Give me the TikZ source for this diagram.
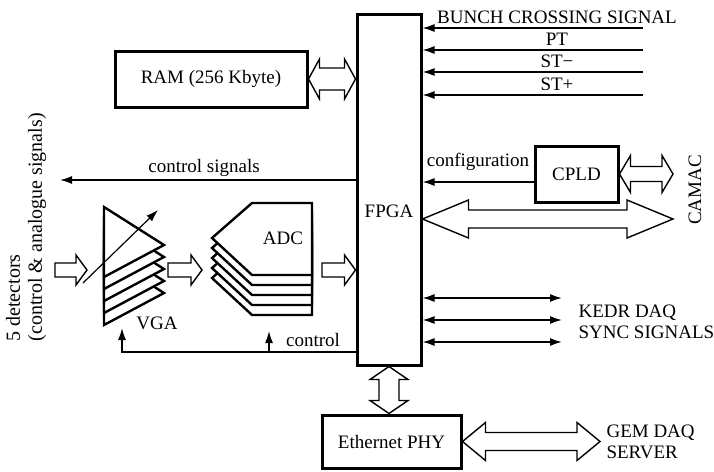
\documentclass[tikz,border=0pt]{standalone}
\usepackage{fontspec}
\setmainfont{Liberation Serif}
\usetikzlibrary{arrows.meta, calc}

% hollow bus arrows: from, to, shaft half width, head half width, head length
\newcommand{\dblarrowH}[5]{%
  \draw[hollow] let \p1=#1, \p2=#2 in
    (\x1,\y1) -- (\x1+#5,\y1+#4) -- (\x1+#5,\y1+#3) -- (\x2-#5,\y1+#3) -- (\x2-#5,\y1+#4)
    -- (\x2,\y1) -- (\x2-#5,\y1-#4) -- (\x2-#5,\y1-#3) -- (\x1+#5,\y1-#3) -- (\x1+#5,\y1-#4) -- cycle;}
\newcommand{\dblarrowV}[5]{%
  \draw[hollow] let \p1=#1, \p2=#2 in
    (\x1,\y1) -- (\x1+#4,\y1-#5) -- (\x1+#3,\y1-#5) -- (\x1+#3,\y2+#5) -- (\x1+#4,\y2+#5)
    -- (\x1,\y2) -- (\x1-#4,\y2+#5) -- (\x1-#3,\y2+#5) -- (\x1-#3,\y1-#5) -- (\x1-#4,\y1-#5) -- cycle;}
\newcommand{\arrowH}[5]{%
  \draw[hollow] let \p1=#1, \p2=#2 in
    (\x2,\y1) -- (\x2-#5,\y1+#4) -- (\x2-#5,\y1+#3) -- (\x1,\y1+#3)
    -- (\x1,\y1-#3) -- (\x2-#5,\y1-#3) -- (\x2-#5,\y1-#4) -- cycle;}

\begin{document}
\begin{tikzpicture}[x=1pt, y=-1pt, font=\fontsize{19}{21}\selectfont,
    box/.style={draw, line width=3pt, inner sep=0pt, align=center},
    sig/.style={line width=1.6pt},
    tip/.style={-{Latex[length=12pt,width=8pt]}},
    hollow/.style={draw, line width=1.4pt, fill=white, line join=miter}]
  \useasboundingbox (0,0) rectangle (714,471);

  % main blocks
  \node[box, minimum width=64pt, minimum height=351pt,
        label={[yshift=-22pt]center:FPGA}] (fpga) at (389,189.5) {};
  \node[box, minimum width=192pt, minimum height=56pt] (ram) at (211,79) {RAM (256 Kbyte)};
  \node[box, minimum width=83pt, minimum height=56pt] (cpld) at (576.5,174) {CPLD};
  \node[box, minimum width=139pt, minimum height=53pt] (eth) at (391.5,441.5) {Ethernet PHY};

  % trigger inputs
  \foreach \y/\t in {28/BUNCH CROSSING SIGNAL, 50/PT, 72/ST−, 95/ST+} {
    \coordinate (in\y) at (643,\y);
    \draw[sig, tip] (in\y) -- (fpga.east |- in\y);
    \node (lbl\y) at (557,\y-10.5) {\t};
  }

  % buses
  \dblarrowH{(ram.east)}{(ram.east -| fpga.west)}{11pt}{20pt}{11pt}
  \coordinate (camac) at (673,219);
  \dblarrowH{(fpga.east |- camac)}{(camac)}{9pt}{19pt}{46pt}
  \dblarrowH{(cpld.east)}{(cpld.east -| camac)}{7.5pt}{18.5pt}{11pt}
  \node[rotate=90] (camaclbl) at (695,190) {CAMAC};
  \dblarrowV{(fpga.south)}{(fpga.south |- eth.north)}{10pt}{19pt}{13pt}
  \coordinate (gem) at (600,444);
  \dblarrowH{(eth.east)}{(eth.east -| gem)}{9pt}{19pt}{23pt}
  \node[align=left, anchor=west] (gemlbl) at (603,442) {GEM DAQ\\SERVER};

  % configuration and control
  \coordinate (conf) at ([yshift=-8pt]cpld.west);
  \draw[sig, tip] (conf) -- (fpga.east |- conf);
  \node (conflbl) at (478,162) {configuration};
  \coordinate (cs) at (60,180);
  \draw[sig, tip] (fpga.west |- cs) -- (cs);
  \node (cslbl) at (204,168) {control signals};

  % sync signals
  \foreach \y in {298,320,342} {
    \coordinate (k\y) at (562,\y);
    \draw[sig, {Latex[length=12pt,width=8pt]}-{Latex[length=12pt,width=8pt]}] (fpga.east |- k\y) -- (k\y);
  }
  \node[align=left, anchor=west] (kedr) at (575,322) {KEDR DAQ\\SYNC SIGNALS};

  % detector inputs
  \node[rotate=90, anchor=west, align=left, font=\fontsize{20}{22}\selectfont] (det) at (26,345) {5 detectors\\(control \& analogue signals)};
  \coordinate (detin) at (55,270);
  \coordinate (vgain) at (87,270);
  \coordinate (vgaout) at (168,270);
  \coordinate (adcin) at (202,270);
  \coordinate (adcout) at (322,270);
  \arrowH{(detin)}{(vgain)}{7pt}{15pt}{11pt}
  \arrowH{(vgaout)}{(adcin)}{7pt}{15pt}{11pt}
  \arrowH{(adcout)}{(fpga.west |- adcout)}{7pt}{15pt}{11pt}

  % VGA stack
  \foreach \k in {4,...,0}
    \draw[line width=2.4pt, fill=white, line join=miter] (104,207+12*\k) -- (164,245+12*\k) -- (104,277+12*\k) -- cycle;
  \draw[line width=1.2pt, tip] (83,283) -- (158,210);
  \node (vgalbl) at (157,323) {VGA};

  % ADC stack
  \foreach \k in {4,...,0}
    \draw[line width=2.4pt, fill=white, line join=miter] (252,203+10*\k) -- (312,203+10*\k) -- (312,275+10*\k) -- (252,275+10*\k) -- (212,238+10*\k) -- cycle;
  \node (adclbl) at (283,238) {ADC};

  % control lines
  \coordinate (cbot) at (122,352);
  \coordinate (vgactl) at (122,328);
  \coordinate (adcctl) at (269,331);
  \draw[sig, tip] (fpga.west |- cbot) -- (cbot) -- (vgactl);
  \draw[sig, tip] (adcctl |- cbot) -- (adcctl);
  \node (ctllbl) at (313,340) {control};
\end{tikzpicture}
\end{document}
